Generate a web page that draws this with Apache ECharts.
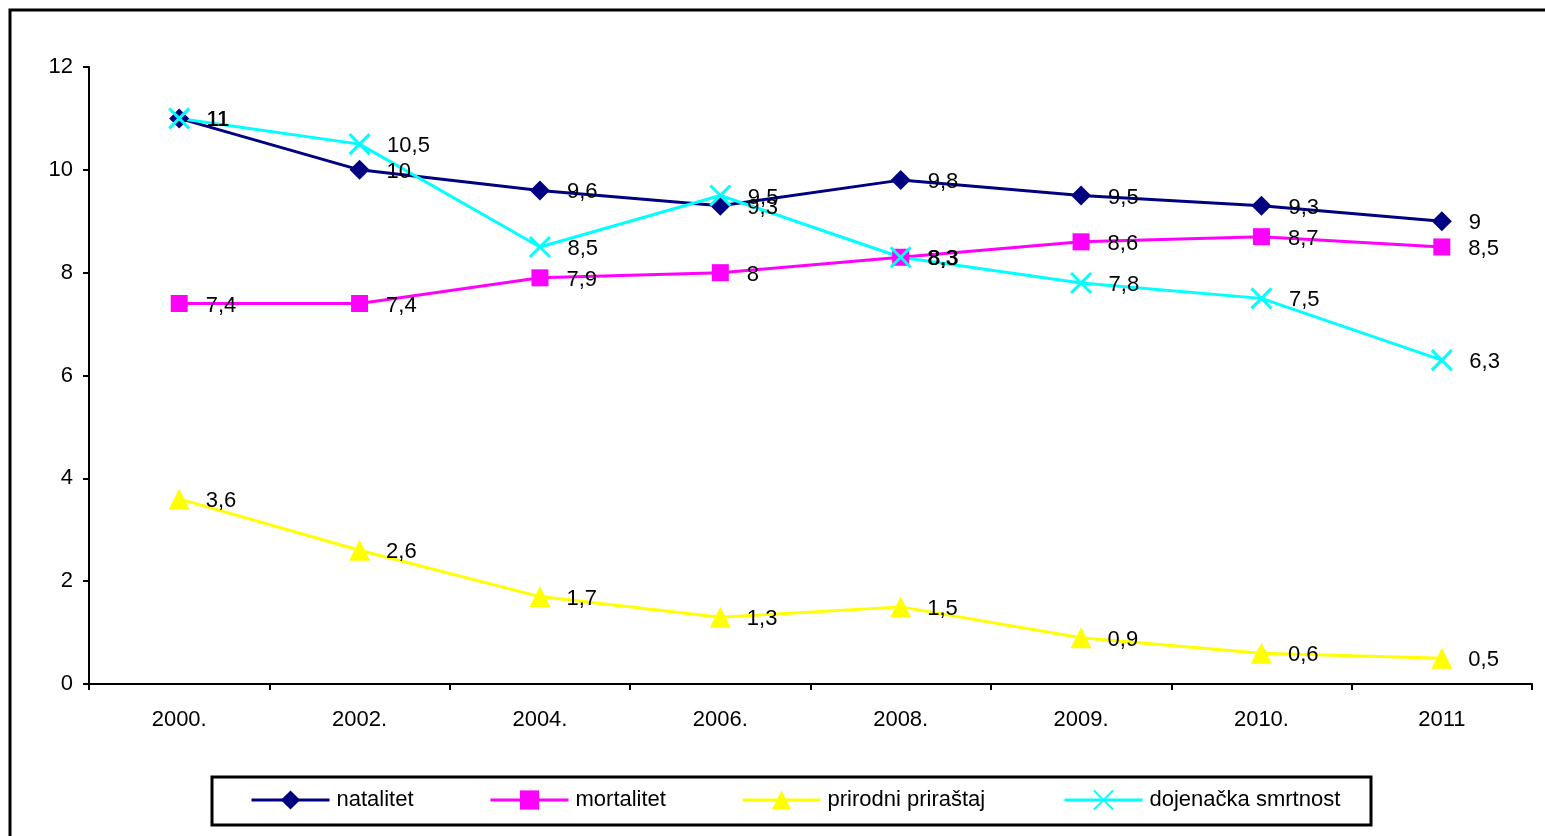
<!DOCTYPE html>
<html>
<head>
<meta charset="utf-8">
<script src="https://cdn.jsdelivr.net/npm/echarts@6/dist/echarts.min.js"></script>
<style>
  html, body { margin: 0; padding: 0; background: #fff; }
  #chart { width: 1545px; height: 836px; }
</style>
</head>
<body>
<div id="chart"></div>
<script>
// Years on the category axis
const years = ['2000.', '2002.', '2004.', '2006.', '2008.', '2009.', '2010.', '2011'];

// Rates per series
const natalitet = [11, 10, 9.6, 9.3, 9.8, 9.5, 9.3, 9];
const mortalitet = [7.4, 7.4, 7.9, 8, 8.3, 8.6, 8.7, 8.5];
const prirodniPrirastaj = [3.6, 2.6, 1.7, 1.3, 1.5, 0.9, 0.6, 0.5];
const dojenackaSmrtnost = [11, 10.5, 8.5, 9.5, 8.3, 7.8, 7.5, 6.3];

// Value axis ticks
const yTicks = [0, 2, 4, 6, 8, 10, 12];

const seriesNames = ['natalitet', 'mortalitet', 'prirodni priraštaj', 'dojenačka smrtnost'];

const FONT = 'Liberation Sans, Arial, sans-serif';
const FS = 22;
const fmt = v => String(v).replace('.', ',');

const crossPath = 'path://M0,0L10,10M10,0L0,10';

function lineSeries(name, data, color, symbol, size, dist, extraItem) {
  return {
    name: name,
    type: 'line',
    data: data,
    symbol: symbol,
    symbolSize: size,
    showAllSymbol: true,
    animation: false,
    lineStyle: { color: color, width: 3 },
    itemStyle: Object.assign({ color: color }, extraItem || {}),
    label: {
      show: true,
      position: 'right',
      distance: dist,
      offset: [0, 2],
      color: '#000',
      fontFamily: FONT,
      fontSize: FS,
      formatter: p => fmt(p.value)
    },
    emphasis: { disabled: true }
  };
}

function legendItem(name, left) {
  return {
    data: [name],
    left: left,
    top: 789,
    itemWidth: 78,
    itemHeight: 24,
    padding: 0,
    selectedMode: false,
    lineStyle: { width: 3 },
    textStyle: { fontFamily: FONT, fontSize: FS, color: '#000', padding: [0, 0, 0, 2] }
  };
}

const chart = echarts.init(document.getElementById('chart'), null, { renderer: 'canvas' });

chart.setOption({
  backgroundColor: '#fff',
  animation: false,
  grid: { left: 89, right: 13, top: 67, bottom: 152, containLabel: false },
  xAxis: {
    type: 'category',
    data: years,
    boundaryGap: true,
    axisLine: { lineStyle: { color: '#000', width: 2 } },
    axisTick: { show: true, length: 6, lineStyle: { color: '#000', width: 2 }, alignWithLabel: false },
    axisLabel: { color: '#000', fontFamily: FONT, fontSize: FS, margin: 25 },
    splitLine: { show: false }
  },
  yAxis: {
    type: 'value',
    min: yTicks[0],
    max: yTicks[yTicks.length - 1],
    interval: yTicks[1] - yTicks[0],
    axisLine: { show: true, lineStyle: { color: '#000', width: 2 } },
    axisTick: { show: true, length: 6, lineStyle: { color: '#000', width: 2 } },
    axisLabel: { color: '#000', fontFamily: FONT, fontSize: FS, margin: 16 },
    splitLine: { show: false }
  },
  legend: [
    legendItem(seriesNames[0], 250),
    legendItem(seriesNames[1], 489),
    legendItem(seriesNames[2], 741),
    legendItem(seriesNames[3], 1063)
  ],
  graphic: [
    {
      type: 'rect',
      shape: { x: 10, y: 10, width: 1600, height: 900 },
      style: { fill: null, stroke: '#000', lineWidth: 3 },
      silent: true,
      z: -1
    },
    {
      type: 'rect',
      shape: { x: 212, y: 777, width: 1159, height: 48 },
      style: { fill: null, stroke: '#000', lineWidth: 3 },
      silent: true
    }
  ],
  series: [
    lineSeries(seriesNames[0], natalitet, '#000080', 'diamond', 20, 17),
    lineSeries(seriesNames[1], mortalitet, '#FF00FF', 'rect', 17, 18),
    lineSeries(seriesNames[2], prirodniPrirastaj, '#FFFF00', 'triangle', 21, 16),
    lineSeries(seriesNames[3], dojenackaSmrtnost, '#00FFFF', crossPath, 20, 16,
      { borderColor: '#00FFFF', borderWidth: 3 })
  ]
});
</script>
</body>
</html>
